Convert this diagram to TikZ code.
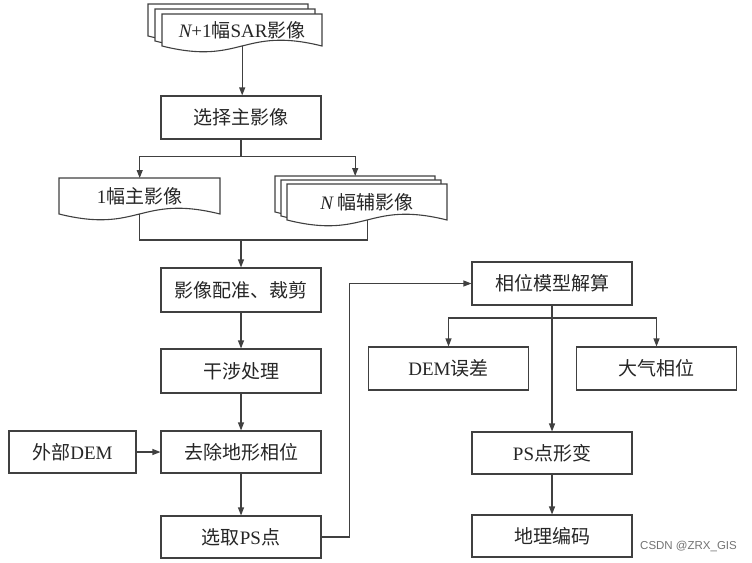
\documentclass[tikz,border=0pt]{standalone}
\usepackage{fontspec}
\setmainfont{Liberation Serif}
\newfontfamily\cjk{Noto Sans CJK SC}
\newfontfamily\wmfont{Liberation Sans}
\usetikzlibrary{arrows.meta,calc}
\newcommand\docshape[4]{%
  \filldraw[line,fill=white] ({#1},{#2}) -- ({#1+#3},{#2}) -- ({#1+#3},{#2-#4})
    .. controls ({#1+0.5*#3},{#2-#4+20}) and ({#1+0.5*#3},{#2-#4-20}) .. ({#1},{#2-#4}) -- cycle;}
\begin{document}
\begin{tikzpicture}[x=1pt,y=1pt,
  line/.style={draw=black!75, line width=1.1pt},
  arr/.style={line, -{Triangle[length=8pt,width=6pt]}},
  txt/.style={font=\fontsize{19}{21}\selectfont, text=black!85},
  box/.style={txt, draw=black!75, line width=1.1pt, fill=white, minimum width=160pt, minimum height=43pt, inner sep=0pt},
  doclabel/.style={txt, minimum width=160pt, inner sep=0pt, anchor=north west},
]
\useasboundingbox (0,0) rectangle (752,-562);

% top stack: N+1 SAR images
\docshape{148}{-4}{160}{32}
\docshape{155}{-9}{160}{32}
\docshape{162}{-14}{160}{32}
\node[doclabel, minimum height=32pt] (sar) at (162,-14) {{\itshape N}+1{\cjk 幅}SAR{\cjk 影像}};

\node[box] (xz) at (241,-117.5) {\cjk 选择主影像};

% master image
\docshape{59}{-178}{161}{36}
\node[doclabel, minimum width=161pt, minimum height=36pt] (zhu) at (59,-178) {1{\cjk 幅主影像}};

% slave images
\docshape{275}{-176}{160}{36}
\docshape{281}{-180}{160}{36}
\docshape{287}{-184}{160}{36}
\node[doclabel, minimum height=36pt] (fu) at (287,-184) {{\itshape N} {\cjk 幅辅影像}};

\node[box, minimum height=44pt] (pz) at (241,-290) {\cjk 影像配准、裁剪};
\node[box, minimum height=44pt] (gs) at (241,-371) {\cjk 干涉处理};
\node[box, minimum height=42pt] (qc) at (241,-452) {\cjk 去除地形相位};
\node[box, minimum height=42pt] (xq) at (241,-537) {{\cjk 选取}PS{\cjk 点}};
\node[box, minimum width=127pt, minimum height=42pt] (wb) at (72.5,-452) {{\cjk 外部}DEM};

\node[box] (xw) at (552,-283.5) {\cjk 相位模型解算};
\node[box] (dem) at (448.5,-368.5) {DEM{\cjk 误差}};
\node[box] (dq) at (656.5,-368.5) {\cjk 大气相位};
\node[box, minimum height=42pt] (ps) at (552,-453) {PS{\cjk 点形变}};
\node[box, minimum height=42pt] (dl) at (552,-536) {\cjk 地理编码};

\node[font=\wmfont\fontsize{11.5}{12}\selectfont, text=black!55, anchor=west, inner sep=0pt] (wm) at (640,-546) {CSDN @ZRX\_GIS};

% connectors
\draw[arr] (sar.south) -- (sar.south |- xz.north);
\coordinate (b1) at ($(xz.south)+(0,-17)$);
\draw[line] (xz.south) -- (b1);
\draw[arr] (b1) -| (zhu.north);
\draw[arr] (b1) -| ($(fu.north)+(-12,8)$);
\coordinate (j1) at (pz.north |- 0,-240);
\draw[line] (zhu.south) |- (j1) -| (fu.south);
\draw[arr] (j1) -- (pz.north);
\draw[arr] (pz) -- (gs);
\draw[arr] (gs) -- (qc);
\draw[arr] (qc) -- (xq);
\draw[arr] (wb) -- (qc);
\draw[arr] (xq.east) -- ++(28,0) |- (xw.west);
\draw[arr] (xw) -- (ps);
\coordinate (b2) at (xw.south |- 0,-318);
\draw[arr] (b2) -| (dem.north);
\draw[arr] (b2) -| (dq.north);
\draw[arr] (ps) -- (dl);
\end{tikzpicture}
\end{document}
